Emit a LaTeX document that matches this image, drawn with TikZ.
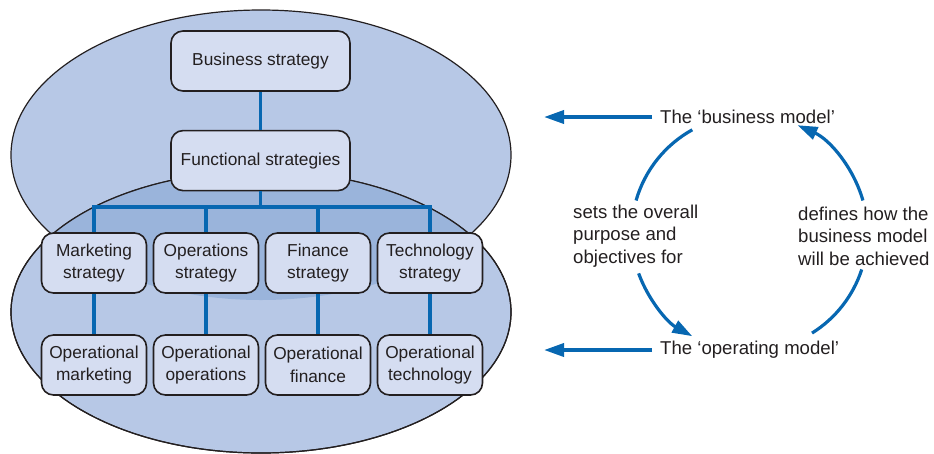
\documentclass[tikz,border=0pt]{standalone}
\usepackage{fontspec}
\setmainfont{Liberation Sans}
\usepackage{tikz}
\usetikzlibrary{arrows.meta,positioning}
\definecolor{ovalblue}{HTML}{B7C8E6}
\definecolor{overlapblue}{HTML}{9AB4DB}
\definecolor{boxblue}{HTML}{D5DDF1}
\definecolor{linkblue}{HTML}{0767B1}
\definecolor{inkgray}{HTML}{231F20}

\begin{document}
\begin{tikzpicture}[x=1pt,y=1pt,>={Triangle[length=20pt,width=13pt]},
				main box/.style={draw=inkgray,line width=1.6pt,rounded corners=12pt,fill=boxblue,
					minimum height=60pt,align=center,inner sep=0pt,text=inkgray,
					font=\fontsize{17.3}{22.5}\selectfont},
				wide box/.style={main box,minimum width=179pt},
				small box/.style={main box,minimum width=105pt},
				model text/.style={text=inkgray,inner sep=0pt,align=left,font=\fontsize{18.6}{22.5}\selectfont},
				link/.style={draw=linkblue,line width=3.6pt},
				oval/.style={draw=inkgray,line width=1.2pt}]
				
				\useasboundingbox (0,0) rectangle (934,-453);
				
				\path[oval,fill=ovalblue] (261,-155) ellipse [x radius=250,y radius=145];
				\path[oval,fill=ovalblue] (261,-312) ellipse [x radius=250,y radius=141];
				\begin{scope}
					\clip (261,-312) ellipse [x radius=250,y radius=141];
					\fill[overlapblue] (261,-155) ellipse [x radius=250,y radius=145];
				\end{scope}
				\path[oval] (261,-312) ellipse [x radius=250,y radius=141];
				
				\node[wide box] (business) at (260.5,-61) {Business strategy};
				\node[wide box] (functional) [below=38pt of business] {Functional strategies};
				
				\node[small box] (marketing) at (94,-263) {Marketing\\strategy};
				\node[small box] (operations) [right=5.4pt of marketing] {Operations\\strategy};
				\node[small box] (finance) [right=5.4pt of operations] {Finance\\strategy};
				\node[small box] (technology) [right=5.4pt of finance] {Technology\\strategy};
				
				\node[small box] (opmarketing) [below=40.4pt of marketing] {Operational\\marketing};
				\node[small box] (opoperations) [below=40.4pt of operations] {Operational\\operations};
				\node[small box] (opfinance) [below=40.4pt of finance] {Operational\\finance};
				\node[small box] (optechnology) [below=40.4pt of technology] {Operational\\technology};
				
				\coordinate (split) at (260.5,-207);
				\draw[link] (business) -- (functional);
				\draw[link] (functional) -- (split);
				\foreach \f in {marketing,operations,finance,technology}
					\draw[link] (\f.north) |- (split);
				\foreach \f/\o in {marketing/opmarketing,operations/opoperations,finance/opfinance,technology/optechnology}
					\draw[link] (\f) -- (\o);
				
				\node[model text,anchor=west] (bmodel) at (660,-117) {The ‘business model’};
				\node[model text,anchor=west] (omodel) at (660,-350) {The ‘operating model’};
				\node[model text,anchor=west] (sets) at (573,-236) {sets the overall\\purpose and\\objectives for};
				\node[model text,anchor=west] (defines) at (798,-236) {defines how the\\business model\\will be achieved};
				
				\coordinate (upper edge) at (544,-117);
				\coordinate (lower edge) at (544,-350);
				\draw[link,->,shorten <=8pt] (bmodel) -- (upper edge);
				\draw[link,->,shorten <=8pt] (omodel) -- (lower edge);
				
				\coordinate (hub) at (749.5,-233);
				\coordinate (sets top) at ([shift={(119:118)}]hub);
				\coordinate (sets bottom) at ([shift={(200:118)}]hub);
				\coordinate (defines bottom) at ([shift={(302:118)}]hub);
				\coordinate (defines top) at ([shift={(16:118)}]hub);
				\draw[link,line width=3.2pt] (sets top) arc[start angle=119,end angle=164,radius=118];
				\draw[link,line width=3.2pt,->] (sets bottom) arc[start angle=200,end angle=241,radius=118];
				\draw[link,line width=3.2pt] (defines bottom) arc[start angle=302,end angle=342,radius=118];
				\draw[link,line width=3.2pt,->] (defines top) arc[start angle=16,end angle=66,radius=118];
				
				\end{tikzpicture}
\end{document}
